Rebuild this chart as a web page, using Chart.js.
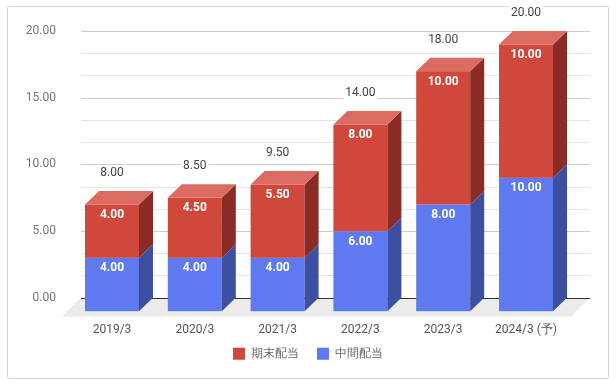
<!DOCTYPE html>
<html>
<head>
<meta charset="utf-8">
<script src="https://cdn.jsdelivr.net/npm/chart.js@4"></script>
<style>
  html, body { margin: 0; padding: 0; background: #fff; }
  #wrap { position: relative; width: 616px; height: 385px; }
  #frame { position: absolute; left: 7px; top: 6px; width: 600px; height: 371px; border: 1px solid #d6d6d6; border-radius: 2px; }
  canvas { position: absolute; left: 0; top: 0; }
</style>
</head>
<body>
<div id="wrap">
  <div id="frame"></div>
  <canvas id="chart" width="616" height="385"></canvas>
</div>
<script>
// データ
const categories = ['2019/3', '2020/3', '2021/3', '2022/3', '2023/3', '2024/3 (予)'];
const interim = [4, 4, 4, 6, 8, 10];        // 中間配当
const yearEnd = [4, 4.5, 5.5, 8, 10, 10];   // 期末配当
const yTicks = [0, 5, 10, 15, 20];

const palette = [
  { front: '#5f7af0', side: '#3c4fa0', top: '#8398f3' },
  { front: '#d0473c', side: '#8a2b25', top: '#dc6b61' }
];

// 3D offset of the front face
const DX = 14, DY = 13.5;

const bar3d = {
  id: 'bar3d',
  afterLayout(chart) {
    // let the x labels hang below the (short) axis box without clipping
    chart.scales.x.bottom += 12;
  },
  // floor + gridlines go under the axis labels
  beforeDraw(chart) {
    const ctx = chart.ctx;
    const ca = chart.chartArea;
    const ys = chart.scales.y;
    const gl = ca.left - 3.6, gr = ca.right + 8.6;
    const y0 = ys.getPixelForValue(0);

    ctx.save();
    ctx.fillStyle = '#ebebeb';
    ctx.beginPath();
    ctx.moveTo(gl, y0);
    ctx.lineTo(gr, y0);
    ctx.lineTo(gr - 19, y0 + 19);
    ctx.lineTo(gl - 19, y0 + 19);
    ctx.closePath();
    ctx.fill();

    ctx.lineWidth = 1;
    for (let i = 12; i >= 0; i--) {
      const py = Math.round(ys.getPixelForValue(i * 5 / 3)) + 0.5;
      ctx.strokeStyle = i === 0 ? '#333333' : (i % 3 === 0 ? '#cccccc' : '#e4e4e4');
      ctx.beginPath();
      ctx.moveTo(gl, py);
      ctx.lineTo(gr, py);
      ctx.stroke();
    }
    ctx.restore();
  },
  beforeDatasetsDraw(chart) {
    const ctx = chart.ctx;
    ctx.save();
    const metas = chart.data.datasets.map((d, i) => chart.getDatasetMeta(i));
    categories.forEach((cat, i) => {
      metas.forEach((meta, di) => {
        const el = meta.data[i];
        const c = palette[di];
        const half = el.width / 2;
        const fl = el.x - half - DX, fr = el.x + half - DX;
        const ft = el.y + DY, fb = el.base + DY;
        ctx.fillStyle = c.front;
        ctx.fillRect(fl, ft, fr - fl, fb - ft);
        ctx.fillStyle = c.side;
        ctx.beginPath();
        ctx.moveTo(fr, ft);
        ctx.lineTo(fr + DX, ft - DY);
        ctx.lineTo(fr + DX, fb - DY);
        ctx.lineTo(fr, fb);
        ctx.closePath();
        ctx.fill();
        if (di === metas.length - 1) {
          ctx.fillStyle = c.top;
          ctx.beginPath();
          ctx.moveTo(fl, ft);
          ctx.lineTo(fr, ft);
          ctx.lineTo(fr + DX, ft - DY);
          ctx.lineTo(fl + DX, ft - DY);
          ctx.closePath();
          ctx.fill();
        }
        // segment value
        ctx.fillStyle = '#ffffff';
        ctx.font = 'bold 12px Roboto';
        ctx.textAlign = 'center';
        ctx.textBaseline = 'middle';
        ctx.fillText(chart.data.datasets[di].data[i].toFixed(2), el.x - DX, ft + 10.5);
      });

      // total above the bar
      const topEl = metas[metas.length - 1].data[i];
      const txt = (interim[i] + yearEnd[i]).toFixed(2);
      ctx.font = '12px Roboto';
      const w = ctx.measureText(txt).width;
      const tx = topEl.x - DX, ty = topEl.y - 18;
      ctx.fillStyle = '#ffffff';
      ctx.fillRect(tx - w / 2 - 2, ty - 7, w + 4, 14);
      ctx.fillStyle = '#444444';
      ctx.fillText(txt, tx, ty);
    });
    ctx.restore();
    return false;
  }
};

Chart.defaults.font.family = 'Roboto';

new Chart(document.getElementById('chart'), {
  type: 'bar',
  data: {
    labels: categories,
    datasets: [
      { label: '中間配当', data: interim, backgroundColor: palette[0].front },
      { label: '期末配当', data: yearEnd, backgroundColor: palette[1].front }
    ]
  },
  options: {
    responsive: false,
    animation: false,
    layout: { padding: { top: 31, left: 0, right: 0, bottom: 15.3 } },
    datasets: { bar: { barThickness: 54 } },
    scales: {
      x: {
        stacked: true,
        grid: { display: false, drawTicks: false },
        border: { display: false },
        ticks: { padding: 25, labelOffset: -DX, color: '#555555', font: { size: 12 } },
        afterFit: s => { s.height = 32; }
      },
      y: {
        stacked: true,
        min: 0,
        max: 20,
        grid: { display: false, drawTicks: false },
        border: { display: false },
        afterBuildTicks: s => { s.ticks = yTicks.map(v => ({ value: v })); },
        ticks: { padding: 28.6, color: '#757575', font: { size: 12 }, callback: v => v.toFixed(2) },
        afterFit: s => { s.width = 84.6; s.paddingTop = 7; s.paddingBottom = 7; }
      },
      pad: {
        type: 'linear',
        position: 'right',
        grid: { display: false, drawTicks: false },
        border: { display: false },
        ticks: { display: false },
        afterFit: s => { s.width = 34.6; }
      }
    },
    plugins: {
      legend: {
        position: 'bottom',
        reverse: true,
        labels: { boxWidth: 12, boxHeight: 12, padding: 18, color: '#666666', font: { size: 12 } }
      },
      tooltip: { enabled: false }
    }
  },
  plugins: [bar3d]
});
</script>
</body>
</html>
